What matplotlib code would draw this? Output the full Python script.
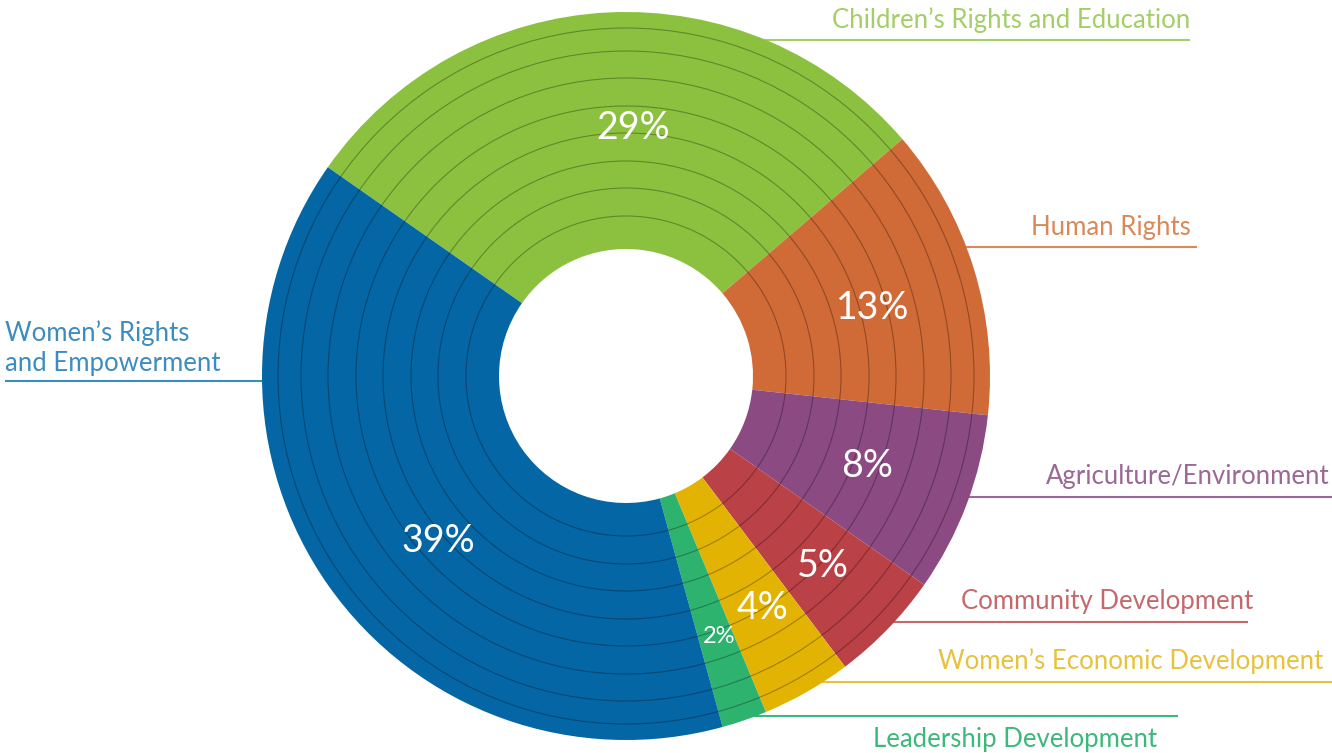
import matplotlib
matplotlib.use("Agg")
import matplotlib.pyplot as plt
from matplotlib.patches import Circle
import numpy as np

categories = ["Children\u2019s Rights and Education", "Human Rights", "Agriculture/Environment",
              "Community Development", "Women\u2019s Economic Development",
              "Leadership Development", "Women\u2019s Rights\nand Empowerment"]
shares = [29, 13, 8, 5, 4, 2, 39]
pct_labels = ["29%", "13%", "8%", "5%", "4%", "2%", "39%"]

wedge_colors = ["#8BC13F", "#D06A37", "#8B4A82", "#BA4146", "#E3B303", "#2EB36F", "#0466A4"]
label_colors = ["#A3CF66", "#D9885A", "#9C6897", "#C6686B", "#E8C23C", "#3DB87B", "#3D8CC0"]

W, H = 1332, 753
fig = plt.figure(figsize=(W / 100, H / 100), dpi=100)
ax = fig.add_axes([0, 0, 1, 1])

cx, cy = 626, H - 376
R_out, R_in = 364, 127
start = 145

# leader lines: y pixel of line, x end pixel; text anchors
leader_y = [40, 247, 497, 622, 682, 716, 381]
leader_xend = [1190, 1197, 1332, 1248, 1332, 1178, 5]
text_x = [1190, 1191, 1330, 1253, 1323, 873, 5]
text_y = [20, 227, 476, 601, 661, 740, 348]
text_ha = ["right", "right", "right", "right", "right", "left", "left"]

for i in range(len(shares)):
    yl = H - leader_y[i]
    dy = abs(yl - cy)
    dx = np.sqrt(max(R_out ** 2 - dy ** 2, 0)) - 3
    xs = cx + dx if leader_xend[i] > cx else cx - dx
    ax.plot([xs, leader_xend[i]], [yl, yl], color=label_colors[i], lw=1.5, zorder=1,
            solid_capstyle="butt")
    ax.text(text_x[i], H - text_y[i], categories[i], color=label_colors[i],
            ha=text_ha[i], va="center", fontsize=18.5, family="Lato",
            linespacing=1.25, zorder=5)

# main ring
wedges, _ = ax.pie(shares, colors=wedge_colors, startangle=start, counterclock=False,
                   center=(cx, cy), radius=R_out, frame=True,
                   wedgeprops=dict(width=R_out - R_in, edgecolor="none", linewidth=0))
for w in wedges:
    w.set_zorder(2)

# inner texture rings
ring_radii = [160, 188, 215, 243, 270, 298, 325, 348]
for rr in ring_radii:
    ax.add_patch(Circle((cx, cy), rr, fill=False, edgecolor=(0, 0, 0, 0.3),
                        linewidth=0.8, zorder=3))

ax.set_xlim(0, W)
ax.set_ylim(0, H)
ax.set_aspect("equal")
ax.axis("off")

# percentage labels
total = sum(shares)
angle = start
pct_r = [248, 256, 257, 274, 269, 277, 250]
pct_shift = [-4.4, -1.8, 0, 0, 0.6, 0.6, 6]
for i, s in enumerate(shares):
    span = 360 * s / total
    mid = np.deg2rad(angle - span / 2 + pct_shift[i])
    angle -= span
    x = cx + pct_r[i] * np.cos(mid)
    y = cy + pct_r[i] * np.sin(mid)
    fs = 17 if s < 3 else 27
    ax.text(x, y, pct_labels[i], color="white", ha="center", va="center",
            fontsize=fs, family="Lato", zorder=6)

fig.savefig("out.png", dpi=100)
